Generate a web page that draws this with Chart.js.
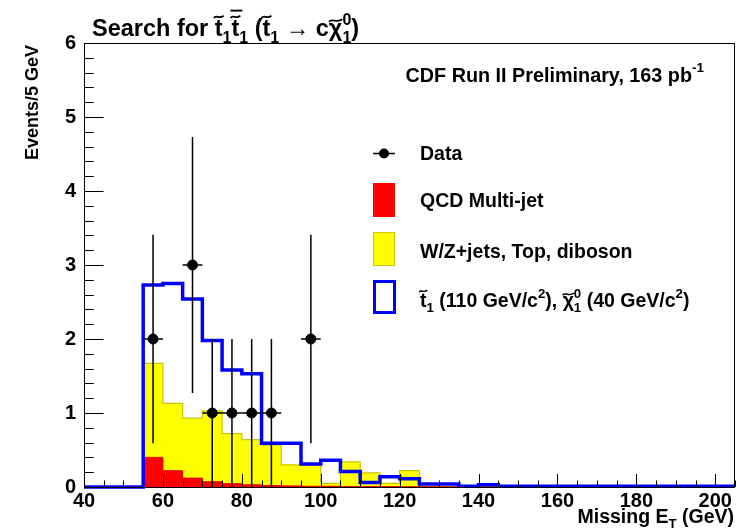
<!DOCTYPE html>
<html>
<head>
<meta charset="utf-8">
<script src="https://cdn.jsdelivr.net/npm/chart.js@4.4.0/dist/chart.umd.min.js"></script>
<style>
  body { margin: 0; background: #fff; }
  canvas { display: block; }
</style>
</head>
<body>
<canvas id="myChart" width="744" height="530"></canvas>
<script>
// bins of 5 GeV, lower edges
const binLow = [40, 45, 50, 55, 60, 65, 70, 75, 80, 85, 90, 95, 100, 105, 110, 115, 120,
                125, 130, 135, 140, 145, 150, 155, 160, 165, 170, 175, 180, 185, 190, 195, 200];
const binHigh = 205;
const xTickValues = [40, 60, 80, 100, 120, 140, 160, 180, 200];

// stop signal (110 GeV/c2, 40 GeV/c2)
const signal = [0, 0, 0, 2.73, 2.75, 2.54, 1.98, 1.58, 1.53, 0.59, 0.59, 0.31, 0.36, 0.21, 0.06, 0.14, 0.11,
                0.04, 0.04, 0.01, 0.03, 0.01, 0.01, 0.01, 0.01, 0.01, 0.01, 0.01, 0.01, 0.01, 0.01, 0.01, 0.01];
// W/Z+jets, top, diboson stacked on top of QCD (total height)
const bkgStack = [0, 0, 0, 1.67, 1.13, 0.93, 1.03, 0.72, 0.64, 0.57, 0.30, 0.30, 0.05, 0.34, 0.19, 0.05, 0.22,
                  0.01, 0.01, 0.005, 0.005, 0.003, 0.003, 0.003, 0.003, 0.003, 0.003, 0.003, 0.003, 0.003, 0.003, 0.003, 0.003];
// QCD multi-jet
const qcd = [0, 0, 0, 0.40, 0.22, 0.12, 0.07, 0.045, 0.03, 0.02, 0.015, 0.01, 0.01, 0.005, 0.005, 0.005, 0.003,
             0.003, 0.002, 0.002, 0.002, 0.002, 0.002, 0.002, 0.002, 0.002, 0.002, 0.002, 0.002, 0.002, 0.002, 0.002, 0.002];

// data points
const dataX = [57.5, 67.5, 72.5, 77.5, 82.5, 87.5, 97.5];
const dataY = [2, 3, 1, 1, 1, 1, 2];
const dataErr = [1.41, 1.73, 1, 1, 1, 1, 1.41];

const FONT = "'Liberation Sans', Arial, Helvetica, sans-serif";

function histPoints(vals) {
    const pts = binLow.map((x, i) => ({ x: x, y: vals[i] }));
    pts.push({ x: binHigh, y: vals[vals.length - 1] });
    return pts;
}

// draw a string made of pieces: normal, sub, sup, with tilde / bar accents
function drawParts(ctx, x, y, size, parts, measureOnly) {
    let cx = x;
    let lastW = 0;
    parts.forEach(p => {
        const small = p.sub || p.sup;
        const fs = small ? size * 0.68 : size;
        ctx.font = 'bold ' + fs + 'px ' + FONT;
        const dy = p.sub ? size * 0.28 : (p.sup ? -size * 0.48 : 0);
        const w = ctx.measureText(p.s).width;
        let px = cx;
        if (p.stack) px = cx - lastW;
        if (!measureOnly) {
            ctx.fillText(p.s, px, y + dy);
            if (p.tilde) {
                const ty = y - size * (p.tildeH || 0.86);
                const tw = Math.max(w, size * 0.42);
                const tx = px + w / 2 - tw / 2;
                ctx.save();
                ctx.lineWidth = size * 0.075;
                ctx.beginPath();
                ctx.moveTo(tx, ty + size * 0.05);
                ctx.bezierCurveTo(tx + tw * 0.3, ty - size * 0.12, tx + tw * 0.55, ty + size * 0.14, tx + tw, ty - size * 0.05);
                ctx.stroke();
                ctx.restore();
            }
            if (p.bar) {
                const by = y - size * 1.08;
                ctx.save();
                ctx.lineWidth = size * 0.08;
                ctx.beginPath();
                ctx.moveTo(px - 1, by);
                ctx.lineTo(px + Math.max(w, size * 0.42) + 1, by);
                ctx.stroke();
                ctx.restore();
            }
        }
        if (p.stack) {
            cx = Math.max(cx, px + w);
        } else {
            cx += w;
        }
        lastW = w;
    });
    return cx - x;
}

const rootPlugin = {
    id: 'rootStyle',
    afterDatasetsDraw(chart) {
        const ctx = chart.ctx;
        const xs = chart.scales.x, ys = chart.scales.y;
        ctx.save();
        ctx.strokeStyle = '#000';
        ctx.lineWidth = 1.5;
        dataX.forEach((x, i) => {
            const px = xs.getPixelForValue(x);
            const py = ys.getPixelForValue(dataY[i]);
            ctx.beginPath();
            ctx.moveTo(px, ys.getPixelForValue(dataY[i] - dataErr[i]));
            ctx.lineTo(px, ys.getPixelForValue(dataY[i] + dataErr[i]));
            ctx.moveTo(xs.getPixelForValue(x - 2.5), py);
            ctx.lineTo(xs.getPixelForValue(x + 2.5), py);
            ctx.stroke();
        });
        ctx.restore();
    },
    afterDraw(chart) {
        const ctx = chart.ctx;
        const a = chart.chartArea;
        const xs = chart.scales.x, ys = chart.scales.y;
        ctx.save();
        ctx.strokeStyle = '#000';
        ctx.fillStyle = '#000';
        ctx.lineWidth = 1;

        // frame
        ctx.strokeRect(a.left + 0.5, a.top + 0.5, a.right - a.left - 1, a.bottom - a.top);

        // x ticks (inside, bottom)
        ctx.beginPath();
        for (let v = 40; v <= 205; v += 5) {
            const px = Math.round(xs.getPixelForValue(v)) + 0.5;
            const len = v % 20 === 0 ? 13 : 6.5;
            ctx.moveTo(px, a.bottom);
            ctx.lineTo(px, a.bottom - len);
        }
        // y ticks (inside, left)
        for (let k = 0; k <= 30; k++) {
            const v = k * 0.2;
            const py = Math.round(ys.getPixelForValue(v)) + 0.5;
            const len = k % 5 === 0 ? 19.5 : 9.8;
            ctx.moveTo(a.left, py);
            ctx.lineTo(a.left + len, py);
        }
        ctx.stroke();

        ctx.textBaseline = 'alphabetic';
        ctx.textAlign = 'left';

        // title
        const T = 23.5;
        drawParts(ctx, 92, 36, T, [
            { s: 'Search for ' },
            { s: 't', tilde: true, tildeH: 0.82 }, { s: '1', sub: true },
            { s: 't', tilde: true, bar: true, tildeH: 0.82 }, { s: '1', sub: true },
            { s: ' (' },
            { s: 't', tilde: true, tildeH: 0.82 }, { s: '1', sub: true },
            { s: ' \u2192 c' },
            { s: '\u03c7', tilde: true, tildeH: 0.66 }, { s: '1', sub: true }, { s: '0', sup: true, stack: true },
            { s: ')' }
        ]);

        // CDF label
        const C = 19.8;
        const cdfParts = [{ s: 'CDF Run II Preliminary, 163 pb' }, { s: '-1', sup: true }];
        const cw = drawParts(ctx, 0, 0, C, cdfParts, true);
        drawParts(ctx, 704 - cw, 82, C, cdfParts);

        // legend
        const L = 19.5;
        const lx = 420;
        // data marker
        ctx.lineWidth = 1.5;
        ctx.beginPath();
        ctx.moveTo(373, 153.5);
        ctx.lineTo(395, 153.5);
        ctx.stroke();
        ctx.beginPath();
        ctx.arc(384, 153.5, 5, 0, Math.PI * 2);
        ctx.fill();
        drawParts(ctx, lx, 160, L, [{ s: 'Data' }]);

        ctx.fillStyle = '#ff0000';
        ctx.fillRect(373, 183, 22, 34);
        ctx.fillStyle = '#000';
        drawParts(ctx, lx, 207, L, [{ s: 'QCD Multi-jet' }]);

        ctx.fillStyle = '#ffff00';
        ctx.fillRect(373, 232, 22, 34);
        ctx.strokeStyle = '#c8c800';
        ctx.lineWidth = 1;
        ctx.strokeRect(373.5, 232.5, 21, 33);
        ctx.fillStyle = '#000';
        ctx.strokeStyle = '#000';
        drawParts(ctx, lx, 258, L, [{ s: 'W/Z+jets, Top, diboson' }]);

        ctx.strokeStyle = '#0000ff';
        ctx.lineWidth = 3;
        ctx.strokeRect(374.5, 281.5, 20, 31);
        ctx.strokeStyle = '#000';
        drawParts(ctx, lx, 307, L, [
            { s: 't', tilde: true, tildeH: 0.82 }, { s: '1', sub: true },
            { s: ' (110 GeV/c' }, { s: '2', sup: true }, { s: '), ' },
            { s: '\u03c7', tilde: true, tildeH: 0.66 }, { s: '1', sub: true }, { s: '0', sup: true, stack: true },
            { s: ' (40 GeV/c' }, { s: '2', sup: true }, { s: ')' }
        ]);

        // x axis title
        const X = 19.5;
        const xParts = [{ s: 'Missing E' }, { s: 'T', sub: true }, { s: ' (GeV)' }];
        const xw = drawParts(ctx, 0, 0, X, xParts, true);
        drawParts(ctx, 734 - xw, 523, X, xParts);

        // y axis title
        ctx.save();
        ctx.translate(38, 45);
        ctx.rotate(-Math.PI / 2);
        ctx.textAlign = 'right';
        ctx.font = 'bold 18px ' + FONT;
        ctx.fillText('Events/5 GeV', 0, 0);
        ctx.restore();

        ctx.restore();
    }
};

new Chart(document.getElementById('myChart'), {
    type: 'line',
    data: {
        datasets: [
            {
                type: 'scatter',
                label: 'Data',
                data: dataX.map((x, i) => ({ x: x, y: dataY[i] })),
                pointRadius: 5,
                pointBackgroundColor: '#000',
                pointBorderColor: '#000',
                showLine: false,
                order: 0,
                clip: false
            },
            {
                label: 'signal',
                data: histPoints(signal),
                stepped: 'before',
                borderColor: '#0000ff',
                borderWidth: 3.5,
                pointRadius: 0,
                fill: false,
                order: 1,
                clip: false
            },
            {
                label: 'QCD Multi-jet',
                data: histPoints(qcd),
                stepped: 'before',
                borderColor: '#dd0000',
                borderWidth: 1,
                backgroundColor: '#ff0000',
                pointRadius: 0,
                fill: 'origin',
                order: 2
            },
            {
                label: 'W/Z+jets, Top, diboson',
                data: histPoints(bkgStack),
                stepped: 'before',
                borderColor: '#c8c800',
                borderWidth: 1.2,
                backgroundColor: '#ffff00',
                pointRadius: 0,
                fill: 'origin',
                order: 3
            }
        ]
    },
    options: {
        responsive: false,
        animation: false,
        layout: { padding: { top: 43, right: 9, left: 0, bottom: 0 } },
        plugins: { legend: { display: false }, tooltip: { enabled: false } },
        scales: {
            x: {
                type: 'linear',
                min: 40,
                max: 205,
                grid: { display: false },
                border: { display: false },
                afterFit: s => { s.height = 43; },
                afterBuildTicks: s => { s.ticks = xTickValues.map(v => ({ value: v })); },
                ticks: {
                    autoSkip: false,
                    maxRotation: 0,
                    padding: -6,
                    color: '#000',
                    font: { family: FONT, size: 20, weight: 'bold' }
                }
            },
            y: {
                min: 0,
                max: 6,
                grid: { display: false },
                border: { display: false },
                afterFit: s => { s.width = 84; },
                ticks: {
                    stepSize: 1,
                    padding: 0,
                    color: '#000',
                    font: { family: FONT, size: 20, weight: 'bold' }
                }
            }
        }
    },
    plugins: [rootPlugin]
});
</script>
</body>
</html>
